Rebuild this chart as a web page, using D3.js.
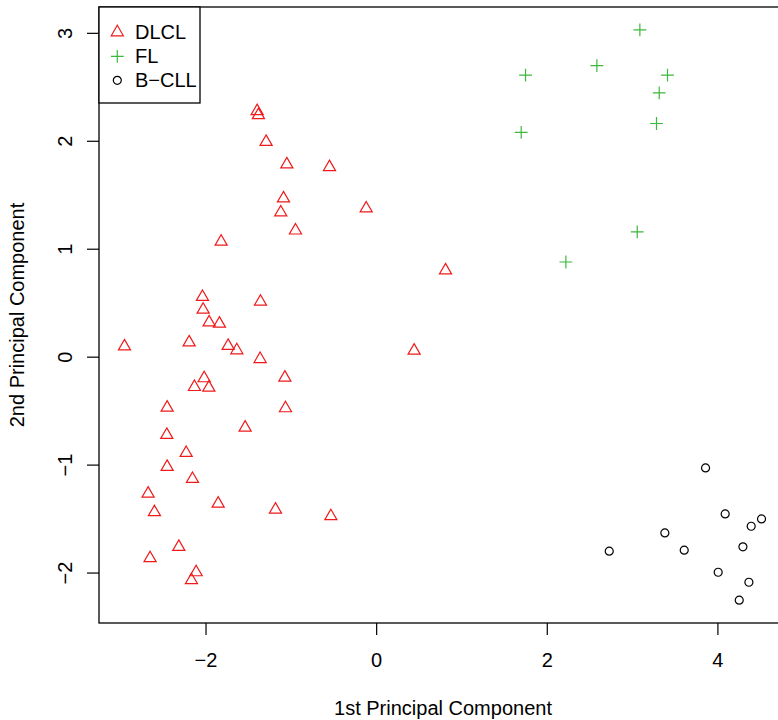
<!DOCTYPE html>
<html>
<head>
<meta charset="utf-8">
<script src="https://cdn.jsdelivr.net/npm/d3@7"></script>
<style>
  html, body { margin: 0; padding: 0; background: #fff; }
  text { font-family: "Liberation Sans", Arial, Helvetica, sans-serif; fill: #000; }
</style>
</head>
<body>
<svg id="chart" width="778" height="720"></svg>
<script>
// ---- Data ----
const dlclX = [-2.036,-1.356,-2.028,-1.958,-1.837,-2.95,-2.192,-1.735,-1.633,-1.36,-1.07,-2.016,-2.13,-1.961,-2.45,-1.063,-1.536,-2.454,-2.227,-2.45,-2.153,-2.673,-1.852,-2.599,-1.18,-0.531,-2.313,-2.65,-2.11,-2.165,-1.395,-1.38,-1.29,-1.047,-0.547,-1.086,-0.117,-1.118,-0.946,-1.817,0.813,0.445];
const dlclY = [0.553,0.509,0.435,0.318,0.306,0.095,0.132,0.10,0.059,-0.022,-0.194,-0.2,-0.281,-0.287,-0.472,-0.478,-0.657,-0.725,-0.892,-1.021,-1.133,-1.269,-1.361,-1.441,-1.417,-1.478,-1.762,-1.867,-1.997,-2.071,2.275,2.238,1.99,1.781,1.756,1.466,1.373,1.336,1.169,1.065,0.799,0.056];
const flX = [3.091,2.587,1.751,3.415,3.318,3.286,1.70,3.06,2.224];
const flY = [3.028,2.697,2.608,2.608,2.444,2.16,2.077,1.157,0.877];
const bcllX = [3.861,4.091,4.517,4.396,3.384,2.732,3.611,4.299,4.009,4.369,4.256];
const bcllY = [-1.031,-1.457,-1.503,-1.571,-1.633,-1.802,-1.793,-1.762,-1.997,-2.09,-2.256];
const groups = ["DLCL", "FL", "B\u2212CLL"];
const xTicks = [-2, 0, 2, 4];
const yTicks = [-2, -1, 0, 1, 2, 3];
const xTitle = "1st Principal Component";
const yTitle = "2nd Principal Component";

// ---- Layout ----
const plot = { left: 99, right: 787, top: 7, bottom: 623 };
const colors = { DLCL: "#f01a1a", FL: "#3cb83c", "B\u2212CLL": "#000000" };
const fontSize = 20;
const intFmt = d3.format("");

const svg = d3.select("#chart");

// R-style 4% extended ranges
function rRange(vals) {
  const [lo, hi] = d3.extent(vals);
  const pad = (hi - lo) * 0.04;
  return [lo - pad, hi + pad];
}
const allX = dlclX.concat(flX, bcllX);
const allY = dlclY.concat(flY, bcllY);
const x = d3.scaleLinear().domain(rRange(allX)).range([plot.left, plot.right]);
const y = d3.scaleLinear().domain(rRange(allY)).range([plot.bottom, plot.top]);

// symbol shapes (R pch 2, 3, 1)
const triR = 7, triXc = 6.06, triYc = 3.5;
const triPath = `M0,${-triR}L${triXc},${triYc}L${-triXc},${triYc}Z`;
const plusH = 6.4;
const plusPath = `M${-plusH},0H${plusH}M0,${-plusH}V${plusH}`;
const circR = 4;

function drawSymbol(g, kind, color) {
  if (kind === "DLCL") {
    g.append("path").attr("d", triPath).attr("fill", "none").attr("stroke", color).attr("stroke-width", 1.2);
  } else if (kind === "FL") {
    g.append("path").attr("d", plusPath).attr("fill", "none").attr("stroke", color).attr("stroke-width", 1.2);
  } else {
    g.append("circle").attr("r", circR).attr("fill", "none").attr("stroke", color).attr("stroke-width", 1.2);
  }
}

// ---- Axes ----
const xAxis = d3.axisBottom(x).tickValues(xTicks).tickFormat(intFmt).tickSize(12).tickSizeOuter(0);
const gx = svg.append("g").attr("transform", `translate(0,${plot.bottom})`).call(xAxis);
gx.select(".domain").remove();
gx.selectAll(".tick line").attr("stroke", "#000").attr("stroke-width", 1.2);
gx.selectAll(".tick text")
  .attr("y", 44).attr("dy", 0)
  .attr("font-size", fontSize).attr("font-family", "Liberation Sans, Arial, sans-serif")
  .attr("fill", "#000");

const yAxis = d3.axisLeft(y).tickValues(yTicks).tickFormat(intFmt).tickSize(12).tickSizeOuter(0);
const gy = svg.append("g").attr("transform", `translate(${plot.left},0)`).call(yAxis);
gy.select(".domain").remove();
gy.selectAll(".tick line").attr("stroke", "#000").attr("stroke-width", 1.2);
gy.selectAll(".tick text")
  .attr("x", 0).attr("y", 0).attr("dy", 0)
  .attr("text-anchor", "middle")
  .attr("transform", "translate(-27.3,0) rotate(-90)")
  .attr("font-size", fontSize).attr("font-family", "Liberation Sans, Arial, sans-serif")
  .attr("fill", "#000");

// Axis titles
svg.append("text")
  .attr("x", (plot.left + plot.right) / 2).attr("y", 715)
  .attr("text-anchor", "middle").attr("font-size", fontSize)
  .text(xTitle);
svg.append("text")
  .attr("transform", `translate(23.5,${(plot.top + plot.bottom) / 2}) rotate(-90)`)
  .attr("text-anchor", "middle").attr("font-size", fontSize)
  .text(yTitle);

// ---- Points ----
const series = [
  { name: "DLCL", xs: dlclX, ys: dlclY },
  { name: "FL", xs: flX, ys: flY },
  { name: "B\u2212CLL", xs: bcllX, ys: bcllY }
];
const pts = svg.append("g");
series.forEach(s => {
  s.xs.forEach((xv, i) => {
    const g = pts.append("g").attr("transform", `translate(${x(xv)},${y(s.ys[i])})`);
    drawSymbol(g, s.name, colors[s.name]);
  });
});

// ---- Plot box ----
svg.append("rect")
  .attr("x", plot.left).attr("y", plot.top)
  .attr("width", plot.right - plot.left).attr("height", plot.bottom - plot.top)
  .attr("fill", "none").attr("stroke", "#000").attr("stroke-width", 1.3);

// ---- Legend ----
const legend = svg.append("g");
legend.append("rect")
  .attr("x", plot.left).attr("y", plot.top)
  .attr("width", 101).attr("height", 96)
  .attr("fill", "#fff").attr("stroke", "#000").attr("stroke-width", 1.3);
groups.forEach((name, i) => {
  const cy = 32.3 + i * 24;
  const g = legend.append("g").attr("transform", `translate(117.3,${cy})`);
  drawSymbol(g, name, colors[name]);
  legend.append("text")
    .attr("x", 135).attr("y", cy + 7.1)
    .attr("font-size", fontSize)
    .text(name);
});
</script>
</body>
</html>
